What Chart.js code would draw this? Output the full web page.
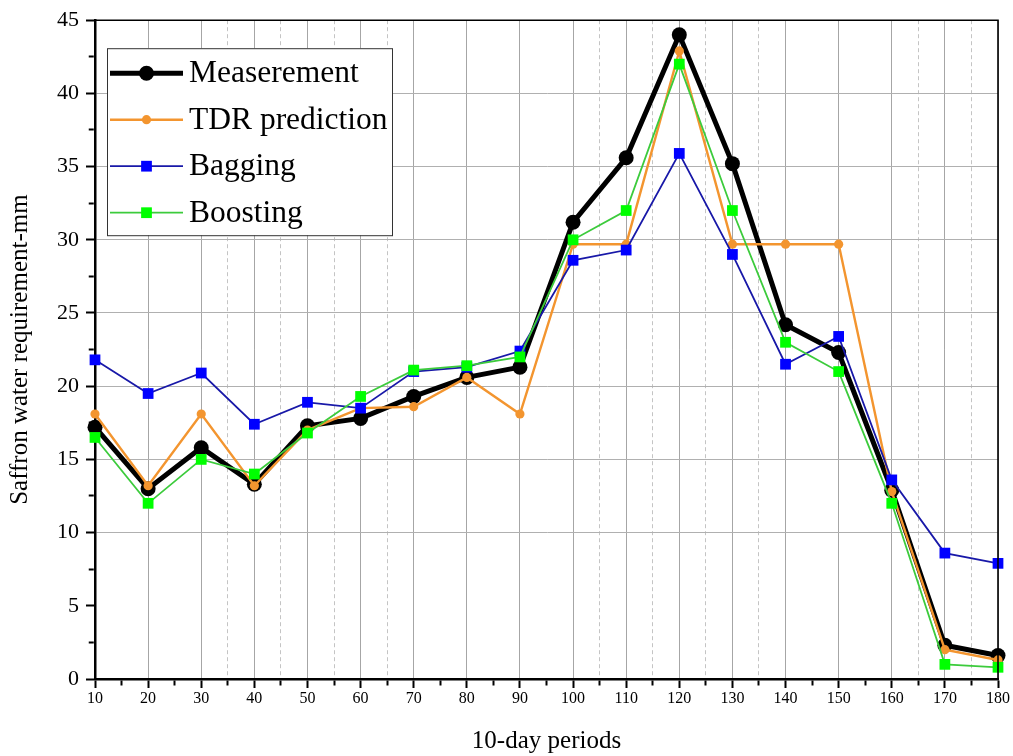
<!DOCTYPE html>
<html>
<head>
<meta charset="utf-8">
<script src="https://cdn.jsdelivr.net/npm/chart.js@4.4.1/dist/chart.umd.min.js"></script>
<style>
  html, body { margin: 0; padding: 0; background: #fff; }
  #wrap { width: 1013px; height: 756px; }
</style>
</head>
<body>
<div id="wrap"><canvas id="c" width="1013" height="756"></canvas></div>
<script>
const periods = [10, 20, 30, 40, 50, 60, 70, 80, 90, 100, 110, 120, 130, 140, 150, 160, 170, 180];
const measurement = [17.2, 13.0, 15.8, 13.3, 17.3, 17.8, 19.3, 20.6, 21.3, 31.2, 35.6, 44.0, 35.2, 24.2, 22.3, 12.9, 2.3, 1.6];
const tdrPrediction = [18.1, 13.2, 18.1, 13.2, 17.0, 18.5, 18.6, 20.6, 18.1, 29.7, 29.7, 42.9, 29.7, 29.7, 29.7, 12.8, 2.0, 1.3];
const bagging = [21.8, 19.5, 20.9, 17.4, 18.9, 18.5, 21.0, 21.3, 22.4, 28.6, 29.3, 35.9, 29.0, 21.5, 23.4, 13.6, 8.6, 7.9];
const boosting = [16.5, 12.0, 15.0, 14.0, 16.8, 19.3, 21.1, 21.4, 22.0, 30.0, 32.0, 42.0, 32.0, 23.0, 21.0, 12.0, 1.0, 0.8];
const seriesNames = ['Measerement', 'TDR prediction', 'Bagging', 'Boosting'];
const xTitle = '10-day periods';
const yTitle = 'Saffron water requirement-mm';
const dashedMinorX = [35, 45, 55, 65, 105, 115, 125, 135, 165, 175];

const SERIF = "'Liberation Serif', 'Times New Roman', serif";
const toXY = arr => periods.map((p, i) => ({ x: p, y: arr[i] }));
const isMult = (v, m) => Math.abs(v / m - Math.round(v / m)) < 1e-6;

const styles = [
  { line: '#000000', pt: '#000000', lw: 5, style: 'circle', r: 7.5, order: 3 },
  { line: '#F3952F', pt: '#F3952F', lw: 2.4, style: 'circle', r: 4.6, order: 2 },
  { line: '#1818A8', pt: '#0000FF', lw: 1.8, style: 'rect', r: 7.6, order: 1 },
  { line: '#3CCB3C', pt: '#00FF00', lw: 1.8, style: 'rect', r: 7.6, order: 0 }
];
const values = [measurement, tdrPrediction, bagging, boosting];

const datasets = values.map((arr, i) => ({
  label: seriesNames[i],
  data: toXY(arr),
  borderColor: styles[i].line,
  borderWidth: styles[i].lw,
  backgroundColor: styles[i].pt,
  pointBackgroundColor: styles[i].pt,
  pointBorderColor: styles[i].pt,
  pointBorderWidth: 0,
  pointStyle: styles[i].style,
  pointRadius: styles[i].r,
  pointHoverRadius: styles[i].r,
  tension: 0,
  order: styles[i].order,
  clip: false
}));

const legendBox = {
  id: 'legendBox',
  afterDraw(chart) {
    const ctx = chart.ctx;
    const ca = chart.chartArea;
    ctx.save();
    ctx.strokeStyle = '#000';
    ctx.lineWidth = 1.6;
    ctx.beginPath();
    ctx.moveTo(ca.left, ca.top);
    ctx.lineTo(ca.right, ca.top);
    ctx.lineTo(ca.right, ca.bottom);
    ctx.stroke();
    const bx = ca.left + 12, by = ca.top + 28, bw = 285, bh = 187;
    ctx.fillStyle = '#fff';
    ctx.fillRect(bx, by, bw, bh);
    ctx.strokeStyle = '#333';
    ctx.lineWidth = 1;
    ctx.strokeRect(bx + 0.5, by + 0.5, bw, bh);
    const rowH = 46.5;
    chart.data.datasets.forEach((ds, i) => {
      const y = by + 25 + i * rowH;
      const x1 = bx + 3, x2 = bx + 76, xm = (x1 + x2) / 2;
      ctx.strokeStyle = ds.borderColor;
      ctx.lineWidth = ds.borderWidth;
      ctx.beginPath();
      ctx.moveTo(x1, y);
      ctx.lineTo(x2, y);
      ctx.stroke();
      ctx.fillStyle = ds.pointBackgroundColor;
      if (ds.pointStyle === 'circle') {
        ctx.beginPath();
        ctx.arc(xm, y, ds.pointRadius, 0, Math.PI * 2);
        ctx.fill();
      } else {
        const s = ds.pointRadius * Math.SQRT1_2;
        ctx.fillRect(xm - s, y - s, 2 * s, 2 * s);
      }
      ctx.fillStyle = '#000';
      ctx.font = "31.5px " + SERIF;
      ctx.textBaseline = 'middle';
      ctx.textAlign = 'left';
      ctx.fillText(ds.label, bx + 82, y + 1);
    });
    ctx.restore();
  }
};

new Chart(document.getElementById('c'), {
  type: 'line',
  data: { datasets },
  plugins: [legendBox],
  options: {
    responsive: false,
    animation: false,
    events: [],
    layout: { padding: { top: 20, right: 15, left: 0, bottom: 0 } },
    plugins: { legend: { display: false }, tooltip: { enabled: false } },
    scales: {
      x: {
        type: 'linear',
        min: 10,
        max: 180,
        afterFit: s => { s.height = 77; },
        ticks: {
          stepSize: 5,
          autoSkip: false,
          maxRotation: 0,
          padding: 1,
          color: '#000',
          font: { family: SERIF, size: 16 },
          callback: v => isMult(v, 10) ? String(v) : ''
        },
        grid: {
          color: c => {
            const v = c.tick ? c.tick.value : 0;
            if (isMult(v, 10)) return '#a6a6a6';
            if (dashedMinorX.includes(v)) return '#c4c4c4';
            return 'rgba(0,0,0,0)';
          },
          lineWidth: 1,
          tickColor: '#000',
          tickLength: 9,
          tickWidth: 2,
          tickBorderDash: c => (c.tick && !isMult(c.tick.value, 10)) ? [5, 100] : []
        },
        border: {
          color: '#000',
          width: 2.5,
          dash: c => (c.tick && dashedMinorX.includes(c.tick.value)) ? [4, 3] : []
        },
        title: {
          display: true,
          text: xTitle,
          color: '#000',
          font: { family: SERIF, size: 25 },
          padding: { top: 0, bottom: 0 }
        }
      },
      y: {
        type: 'linear',
        min: 0,
        max: 45,
        afterFit: s => { s.width = 95; },
        ticks: {
          stepSize: 2.5,
          autoSkip: false,
          padding: 7,
          color: '#000',
          font: { family: SERIF, size: 22 },
          callback: v => isMult(v, 5) ? String(v) : ''
        },
        grid: {
          color: c => {
            const v = c.tick ? c.tick.value : 0;
            if (isMult(v, 5) && v >= 10 && v <= 40) return '#b0b0b0';
            return 'rgba(0,0,0,0)';
          },
          lineWidth: 1,
          tickColor: '#000',
          tickLength: 9,
          tickWidth: 2,
          tickBorderDash: c => (c.tick && !isMult(c.tick.value, 5)) ? [0, 2.75, 5, 100] : []
        },
        border: { color: '#000', width: 2.5 },
        title: {
          display: true,
          text: yTitle,
          color: '#000',
          font: { family: SERIF, size: 25 },
          padding: { top: 5, bottom: 0 }
        }
      }
    }
  }
});
</script>
</body>
</html>
